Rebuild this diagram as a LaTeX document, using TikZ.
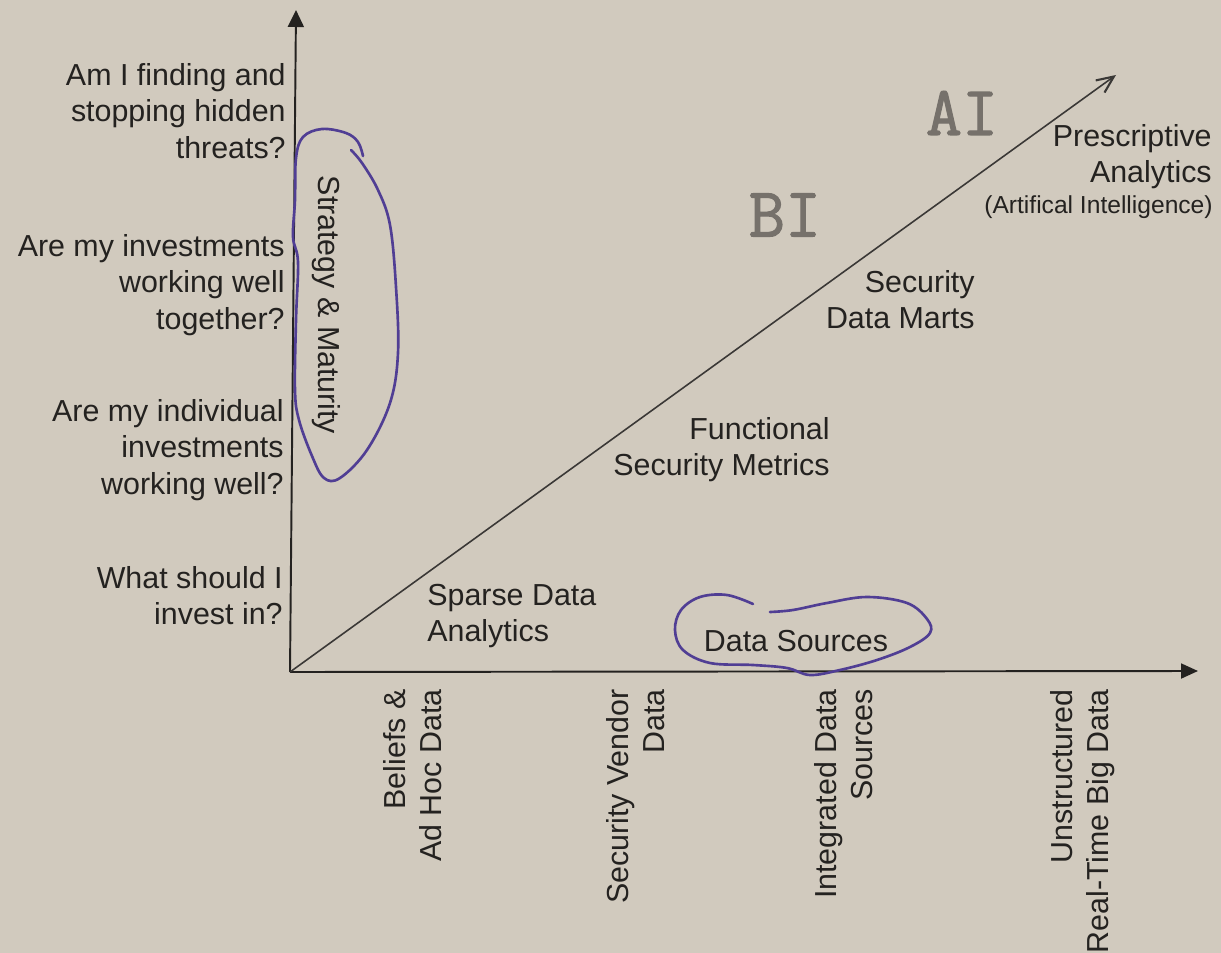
\documentclass[tikz,border=0pt]{standalone}
\usepackage{fontspec}
\setmainfont{Liberation Sans}
\newfontfamily\stampfont[FakeBold=1.6]{Latin Modern Mono}
\usetikzlibrary{arrows.meta}

\definecolor{paper}{RGB}{209,202,190}
\definecolor{ink}{RGB}{36,34,32}
\definecolor{pen}{RGB}{80,62,148}
\definecolor{stamp}{RGB}{118,113,107}

\begin{document}
\begin{tikzpicture}[x=0.02cm, y=-0.02cm,
  lbl/.style={text=ink, font=\fontsize{17.3}{20.6}\selectfont, inner sep=0pt},
  small/.style={text=ink, font=\fontsize{14}{16.5}\selectfont, inner sep=0pt},
  stamped/.style={text=stamp, font=\stampfont\fontsize{40}{40}\selectfont, inner sep=0pt},
  axis/.style={draw=ink, line width=1.1pt},
  trend/.style={draw=ink!90, line width=0.9pt},
  loop/.style={draw=pen, line width=1.5pt, line cap=round, line join=round}]

% page
\fill[paper] (0,0) rectangle (1221,953);
\useasboundingbox (0,0) rectangle (1221,953);

% axes
\coordinate (O) at (290,672);
\coordinate (ytip) at (296,10);
\coordinate (xtip) at (1198,671);
\coordinate (dtip) at (1116,75);
\draw[axis, -{Triangle[length=0.34cm, width=0.32cm]}] (O) -- (ytip);
\draw[axis, -{Triangle[length=0.34cm, width=0.30cm]}] (O) -- (xtip);
\draw[trend, -{Straight Barb[length=0.34cm, width=0.30cm, line width=1.2pt]}] (O) -- (dtip);

% questions along the vertical axis
\node[lbl, anchor=east, align=right] (q4) at (286,111) {Am I finding and\\stopping hidden\\threats?};
\node[lbl, anchor=east, align=right] (q3) at (285,285) {Are my investments\\working well\\together?};
\node[lbl, anchor=east, align=right] (q2) at (284,450) {Are my individual\\investments\\working well?};
\node[lbl, anchor=east, align=right] (q1) at (283,596) {What should I\\invest in?};

% data categories along the horizontal axis
\node[lbl, rotate=90, anchor=east, align=right] (d1) at (413,689) {Beliefs \&\\Ad Hoc Data};
\node[lbl, rotate=90, anchor=east, align=right] (d2) at (636,689) {Security Vendor\\Data};
\node[lbl, rotate=90, anchor=east, align=right] (d3) at (844,689) {Integrated Data\\Sources};
\node[lbl, rotate=90, anchor=east, align=right] (d4) at (1083,689) {Unstructured\\Real-Time Big Data};

% stages along the trend line
\node[lbl, anchor=west, align=left] (sparse) at (427,616) {Sparse Data\\Analytics};
\node[lbl, anchor=east, align=right] (func) at (830,450) {Functional\\Security Metrics};
\node[lbl, anchor=east, align=right] (marts) at (975,300) {Security\\Data Marts};
\node[lbl, anchor=east, align=right] (presc) at (1212,157) {Prescriptive\\Analytics};
\node[small, anchor=east] (presc-note) at (1213,207) {(Artifical Intelligence)};

% pen notes
\node[stamped] (bi) at (785,215) {BI};
\node[stamped] (ai) at (962,113) {AI};

\node[lbl, rotate=-90] (strat) at (326,305) {Strategy \& Maturity};
\node[lbl] (sources) at (796,641) {Data Sources};

% pen loops
\draw[loop] plot[smooth, tension=0.6] coordinates {
  (363,156) (358,142) (346,133) (322,129) (303,137) (296,158) (295,200)
  (293,237) (298,262) (296,320) (295,390) (299,420) (312,456) (324,478)
  (340,478) (367,450) (390,403) (398,353) (396,287) (390,225) (378,190)
  (362,163) (351,150)};
\draw[loop] plot[smooth, tension=0.6] coordinates {
  (753,604) (727,595) (700,597) (681,610) (675,630) (683,650) (710,663)
  (753,665) (787,668) (810,675) (840,670) (877,660) (910,647) (930,633)
  (927,619) (907,603) (867,597) (827,603) (793,610) (770,612)};

\end{tikzpicture}
\end{document}
